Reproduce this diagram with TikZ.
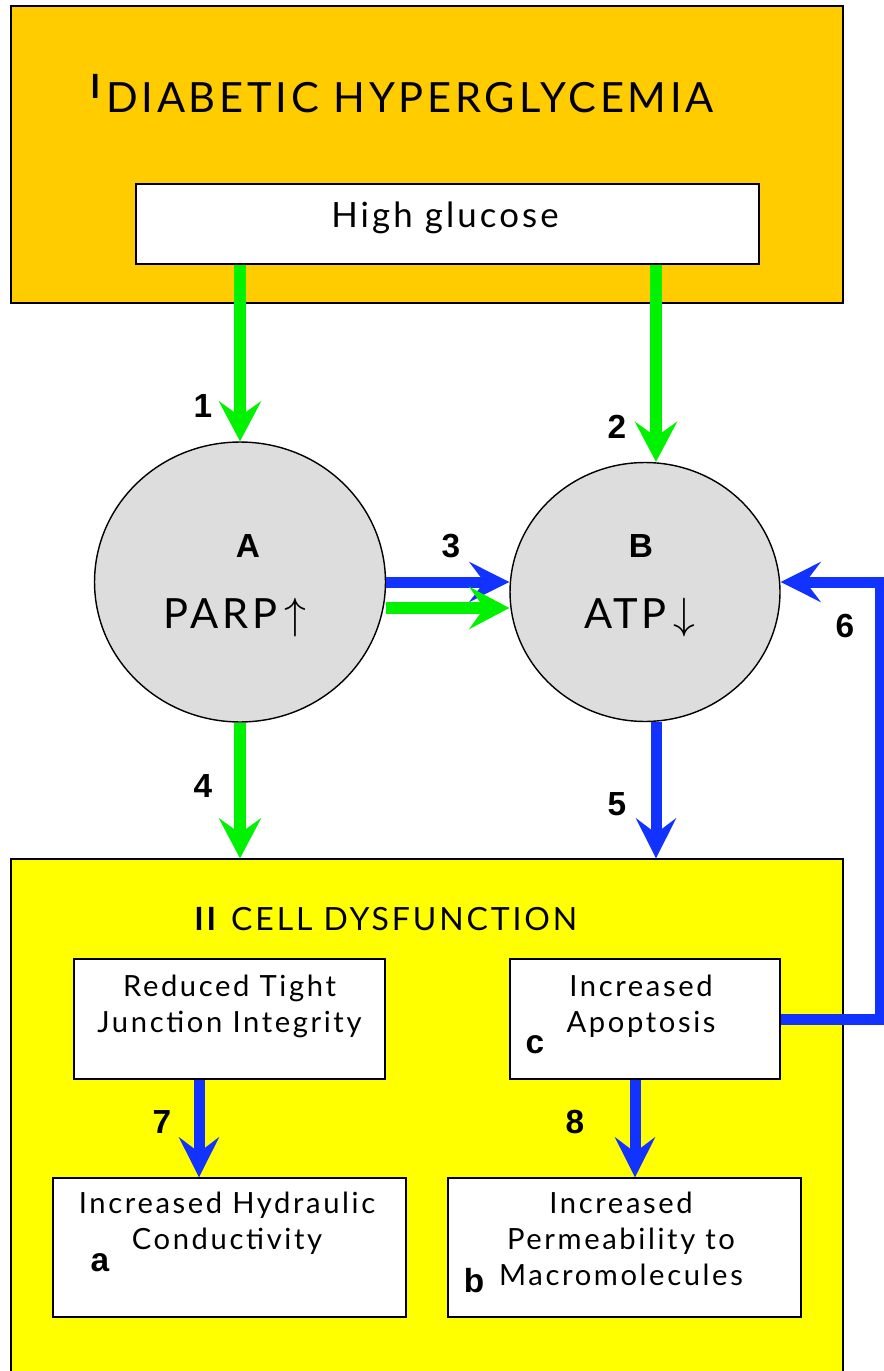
\documentclass[tikz,border=0pt]{standalone}
\usepackage{fontspec}
\setmainfont{Lato}[LetterSpace=9]
\newfontfamily\numfont{Liberation Sans}
\usetikzlibrary{shapes.geometric,arrows.meta}
\definecolor{hyperorange}{RGB}{255,204,0}
\definecolor{cellyellow}{RGB}{255,255,0}
\definecolor{arrgreen}{RGB}{0,242,0}
\definecolor{arrblue}{RGB}{18,50,255}
\definecolor{circgray}{RGB}{221,221,221}
\begin{document}
\begin{tikzpicture}[x=0.02cm,y=-0.02cm]
      \tikzset{box/.style={draw,line width=0.8pt,fill=white,inner sep=0pt},
        circ/.style={ellipse,draw,line width=0.8pt,fill=circgray,inner sep=0pt},
        txt/.style={inner sep=0pt,align=center,font=\fontsize{16.6}{20.5}\selectfont},
        lbl/.style={inner sep=0pt,anchor=base,font=\numfont\bfseries\fontsize{19}{19}\selectfont},
        grnarr/.style={draw=arrgreen,line width=0.24cm,-{Stealth[length=0.8cm,width=0.84cm,inset=0.3cm]}},
        bluarr/.style={draw=arrblue,line width=0.22cm,-{Stealth[length=0.8cm,width=0.8cm,inset=0.3cm]}}}
      \useasboundingbox (0,0) rectangle (883,1371);

      % I: hyperglycemia
      \node[box,fill=hyperorange,minimum width=16.64cm,minimum height=5.94cm] (hyper) at (427,154.5) {};
      \node[txt,anchor=base west,font=\fontsize{23.7}{28}\selectfont] (hypert) at (90,113)
        {\raisebox{0.28cm}{\bfseries\fontsize{19}{19}\selectfont I}\kern0.12cm DIABETIC HYPERGLYCEMIA};
      \node[box,minimum width=12.46cm,minimum height=1.6cm] (glu) at (447.5,224) {};
      \node[txt,anchor=base,font=\fontsize{19.8}{24}\selectfont] (glut) at (445,228) {High glucose};

      % A and B
      \node[circ,minimum width=5.82cm,minimum height=5.6cm] (A) at (240,582) {};
      \node[circ,minimum width=5.4cm,minimum height=5.18cm] (B) at (645,592) {};
      \node[lbl] (Al) at (248,557) {A};
      \node[lbl] (Bl) at (641,557) {B};
      \node[txt,anchor=base,font=\fontsize{23.7}{28}\selectfont] (parp) at (235,628) {PARP\,$\big\uparrow$};
      \node[txt,anchor=base,font=\fontsize{23.7}{28}\selectfont] (atp) at (640,628) {ATP\,$\big\downarrow$};

      % II: cell dysfunction
      \node[box,fill=cellyellow,minimum width=16.64cm,minimum height=10.44cm] (cell) at (427,1120) {};
      \node[txt,anchor=base west,font=\fontsize{18.2}{22}\selectfont] (cellt) at (194,930)
        {{\bfseries II}\kern0.3cm CELL DYSFUNCTION};
      \node[box,minimum width=6.22cm,minimum height=2.4cm] (tight) at (229.5,1019) {};
      \node[box,minimum width=5.4cm,minimum height=2.4cm] (apop) at (645,1019) {};
      \node[box,minimum width=7.06cm,minimum height=2.78cm] (hydr) at (229.5,1247.5) {};
      \node[box,minimum width=7.06cm,minimum height=2.78cm] (perm) at (624.5,1247.5) {};
      \node[txt,anchor=north] (tightt) at (229.5,975) {Reduced Tight\\Junction Integrity};
      \node[txt,anchor=north] (apopt) at (641,975) {Increased\\Apoptosis};
      \node[txt,anchor=north] (hydrt) at (227,1192) {Increased Hydraulic\\Conductivity};
      \node[txt,anchor=north] (permt) at (621,1192) {Increased\\Permeability to\\Macromolecules};

      % arrows
      \coordinate (x2) at (656,0);
      \coordinate (x7) at (199,0);
      \coordinate (x8) at (635,0);
      \draw[grnarr] (glu.south -| A.north) -- (A.north);
      \draw[grnarr] (glu.south -| x2) -- (B.north -| x2);
      \draw[bluarr] (A.east) -- (A.east -| B.west);
      \draw[grnarr] ([yshift=-0.52cm]A.east) -- ([yshift=-0.52cm]A.east -| B.west);
      \draw[grnarr] (A.south) -- (A.south |- cell.north);
      \draw[bluarr] (B.south -| x2) -- (cell.north -| x2);
      \draw[bluarr] (apop.east) -- ++(100,0) |- ([yshift=0.2cm]B.east);
      \draw[bluarr] (tight.south -| x7) -- (hydr.north -| x7);
      \draw[bluarr] (apop.south -| x8) -- (perm.north -| x8);

      % labels
      \foreach \n/\x/\y in {1/203/418,2/617/438,3/451/557,4/203/797,5/617/815,6/845/637,7/162/1133,8/575/1133}
        \node[lbl] (n\n) at (\x,\y) {\n};
      \foreach \n/\x/\y in {a/100/1271,b/474/1292,c/535/1053}
        \node[lbl] (l\n) at (\x,\y) {\n};
\end{tikzpicture}
\end{document}
